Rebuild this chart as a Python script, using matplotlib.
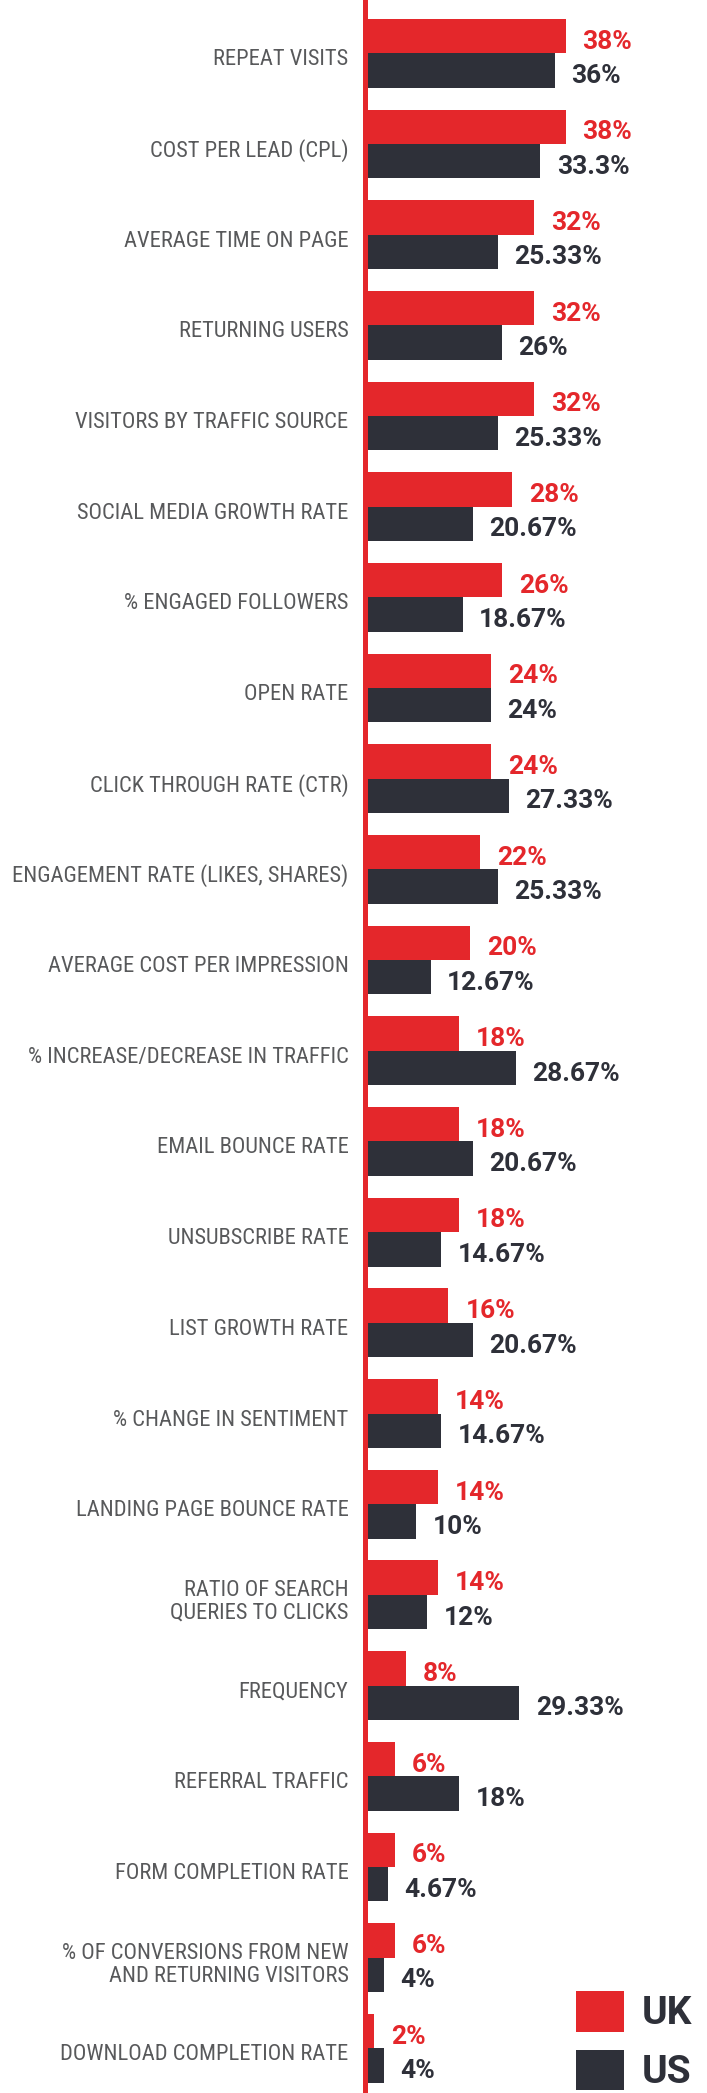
import matplotlib
matplotlib.use("Agg")
import matplotlib.pyplot as plt
import matplotlib.transforms as mtransforms
from matplotlib.patches import Patch
from matplotlib import font_manager

categories = [
    "REPEAT VISITS",
    "COST PER LEAD (CPL)",
    "AVERAGE TIME ON PAGE",
    "RETURNING USERS",
    "VISITORS BY TRAFFIC SOURCE",
    "SOCIAL MEDIA GROWTH RATE",
    "% ENGAGED FOLLOWERS",
    "OPEN RATE",
    "CLICK THROUGH RATE (CTR)",
    "ENGAGEMENT RATE (LIKES, SHARES)",
    "AVERAGE COST PER IMPRESSION",
    "% INCREASE/DECREASE IN TRAFFIC",
    "EMAIL BOUNCE RATE",
    "UNSUBSCRIBE RATE",
    "LIST GROWTH RATE",
    "% CHANGE IN SENTIMENT",
    "LANDING PAGE BOUNCE RATE",
    "RATIO OF SEARCH\nQUERIES TO CLICKS",
    "FREQUENCY",
    "REFERRAL TRAFFIC",
    "FORM COMPLETION RATE",
    "% OF CONVERSIONS FROM NEW\nAND RETURNING VISITORS",
    "DOWNLOAD COMPLETION RATE",
]
uk_values = [38, 38, 32, 32, 32, 28, 26, 24, 24, 22, 20, 18, 18, 18, 16, 14, 14, 14, 8, 6, 6, 6, 2]
us_values = [36, 33.3, 25.33, 26, 25.33, 20.67, 18.67, 24, 27.33, 25.33, 12.67, 28.67, 20.67,
             14.67, 20.67, 14.67, 10, 12, 29.33, 18, 4.67, 4, 4]
series_names = ["UK", "US"]

RED = "#e4272b"
DARK = "#2e3039"
GREY = "#58595b"

installed = {f.name for f in font_manager.fontManager.ttflist}
label_family, label_size = ["Roboto"], 14
for cand, sz in [("Roboto Condensed", 16.2), ("Liberation Sans Narrow", 15.7), ("Open Sans Condensed", 15.5)]:
    if cand in installed:
        label_family, label_size = [cand, "Roboto"], sz
        break

W, H, DPI = 707, 2093, 100
fig = plt.figure(figsize=(W / DPI, H / DPI), dpi=DPI)
fig.patch.set_facecolor("white")

x0 = 363  # px of zero
px_per = 5.33
pitch = 90.68
first_center = 53.3

ax = fig.add_axes([x0 / W, 0, 1 - x0 / W, 1])
ax.set_xlim(0, (W - x0) / px_per)
ax.set_ylim((H - first_center) / pitch, -first_center / pitch)

n = len(categories)
ys = list(range(n))
bh = 34.4 / pitch
ax.barh([y - bh / 2 for y in ys], uk_values, height=bh, color=RED, align="center", zorder=2)
ax.barh([y + bh / 2 for y in ys], us_values, height=bh, color=DARK, align="center", zorder=2)

# vertical red axis line
off = mtransforms.ScaledTranslation(2 / DPI, 0, fig.dpi_scale_trans)
vl = ax.axvline(0, color=RED, lw=5 * 72 / DPI, zorder=3)
vl.set_transform(vl.get_transform() + off)
vl.set_clip_on(False)

for y, v in zip(ys, uk_values):
    ax.annotate(f"{v:g}%", (v, y - bh / 2), xytext=(12.3, -4.0), textcoords="offset points",
                ha="left", va="center", color=RED, fontsize=19, fontweight="bold",
                family="Roboto", zorder=4)
for y, v in zip(ys, us_values):
    ax.annotate(f"{v:g}%", (v, y + bh / 2), xytext=(11.8, -4.0), textcoords="offset points",
                ha="left", va="center", color=DARK, fontsize=19, fontweight="bold",
                family="Roboto", zorder=4)

ax.set_yticks(ys)
ax.set_yticklabels(categories, family=label_family, fontsize=label_size, color=GREY,
                   linespacing=1.1)
ax.tick_params(axis="y", length=0, pad=10.5)
ax.tick_params(axis="x", bottom=False, labelbottom=False)
down = mtransforms.ScaledTranslation(0, -4 / DPI, fig.dpi_scale_trans)
for lab in ax.get_yticklabels():
    lab.set_transform(lab.get_transform() + down)
for s in ax.spines.values():
    s.set_visible(False)
ax.set_facecolor("none")

handles = [Patch(facecolor=RED, edgecolor="none"), Patch(facecolor=DARK, edgecolor="none")]
leg = fig.legend(handles, series_names, loc="center",
                 bbox_to_anchor=(634 / W, 1 - 2041 / H), frameon=False,
                 prop={"family": "Roboto", "weight": "bold", "size": 28},
                 handlelength=1.23, handleheight=1.23, handletextpad=0.46,
                 labelspacing=0.44, borderpad=0, borderaxespad=0)
for t in leg.get_texts():
    t.set_color(DARK)

fig.savefig("out.png", dpi=DPI, facecolor="white")
